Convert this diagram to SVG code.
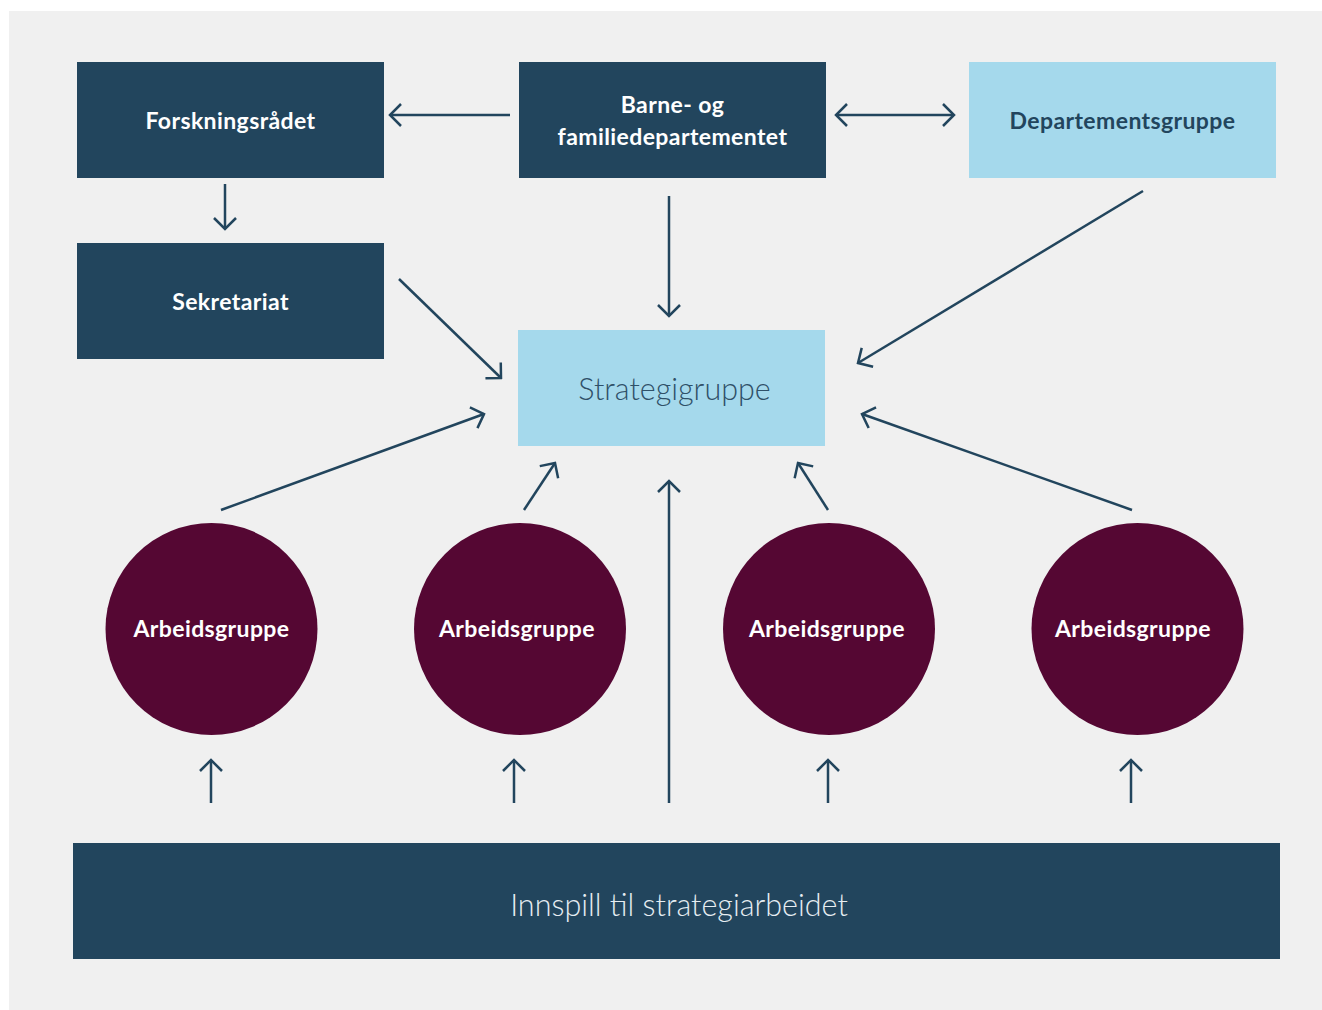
<svg xmlns="http://www.w3.org/2000/svg" width="1322" height="1010" viewBox="0 0 1322 1010">
<style>
.dark{fill:#22455d}
.light{fill:#a5d9ec}
.circ{fill:#550733}
.tb{font-family:Lato,"Noto Sans",sans-serif;font-weight:700;font-size:23px;letter-spacing:0.4px;text-anchor:middle;fill:#ffffff}
.tbd{font-family:Lato,"Noto Sans",sans-serif;font-weight:700;font-size:23px;letter-spacing:0.4px;text-anchor:middle;fill:#22455d}
.tl{font-family:Lato,"Noto Sans",sans-serif;font-weight:300;font-size:30.5px;text-anchor:middle}
.conn line{stroke:#22455d;stroke-width:2.5;fill:none;marker-end:url(#ah)}
</style>
<defs>
<marker id="ah" markerUnits="userSpaceOnUse" viewBox="-14 -14 16 28" markerWidth="16" markerHeight="28" refX="0" refY="0" orient="auto-start-reverse">
<path d="M-11,-11 L0,0 L-11,11" fill="none" stroke="#22455d" stroke-width="2.5"/>
</marker>
</defs>
<rect x="9" y="11" width="1313" height="999" fill="#f0f0f0"/>
<g id="forskningsradet"><rect class="dark" x="77" y="62" width="307" height="116"/><text class="tb" x="230.5" y="129">Forskningsrådet</text></g>
<g id="bfd"><rect class="dark" x="519" y="62" width="307" height="116"/><text class="tb" x="672.5" y="113">Barne- og</text><text class="tb" x="672.5" y="145">familiedepartementet</text></g>
<g id="departementsgruppe"><rect class="light" x="969" y="62" width="307" height="116"/><text class="tbd" x="1122.5" y="129">Departementsgruppe</text></g>
<g id="sekretariat"><rect class="dark" x="77" y="243" width="307" height="116"/><text class="tb" x="230.5" y="310">Sekretariat</text></g>
<g id="strategigruppe"><rect class="light" x="518" y="330" width="307" height="116"/><text class="tl" x="674.5" y="400" fill="#2f5068">Strategigruppe</text></g>
<g id="arb1"><circle class="circ" cx="211.5" cy="629" r="106"/><text class="tb" x="211.5" y="637">Arbeidsgruppe</text></g>
<g id="arb2"><circle class="circ" cx="520" cy="629" r="106"/><text class="tb" x="517" y="637">Arbeidsgruppe</text></g>
<g id="arb3"><circle class="circ" cx="829" cy="629" r="106"/><text class="tb" x="827" y="637">Arbeidsgruppe</text></g>
<g id="arb4"><circle class="circ" cx="1137.5" cy="629" r="106"/><text class="tb" x="1133" y="637">Arbeidsgruppe</text></g>
<g id="innspill"><rect class="dark" x="73" y="843" width="1207" height="116"/><text class="tl" x="679" y="916" fill="#e6edf2">Innspill til strategiarbeidet</text></g>
<g class="conn" id="connectors">
<line x1="510" y1="115" x2="390" y2="115"/>
<line x1="836" y1="115" x2="954" y2="115" style="marker-start:url(#ah)"/>
<line x1="225" y1="184" x2="225" y2="229"/>
<line x1="669" y1="196" x2="669" y2="316"/>
<line x1="399" y1="279" x2="501" y2="378"/>
<line x1="1143" y1="191" x2="858" y2="363"/>
<line x1="221" y1="510" x2="484" y2="414"/>
<line x1="524" y1="510" x2="555" y2="463"/>
<line x1="669" y1="803" x2="669" y2="481"/>
<line x1="828" y1="510" x2="798" y2="463"/>
<line x1="1132" y1="510" x2="862" y2="414"/>
<line x1="211" y1="803" x2="211" y2="760"/>
<line x1="514" y1="803" x2="514" y2="760"/>
<line x1="828" y1="803" x2="828" y2="760"/>
<line x1="1131" y1="803" x2="1131" y2="760"/>
</g>
</svg>
